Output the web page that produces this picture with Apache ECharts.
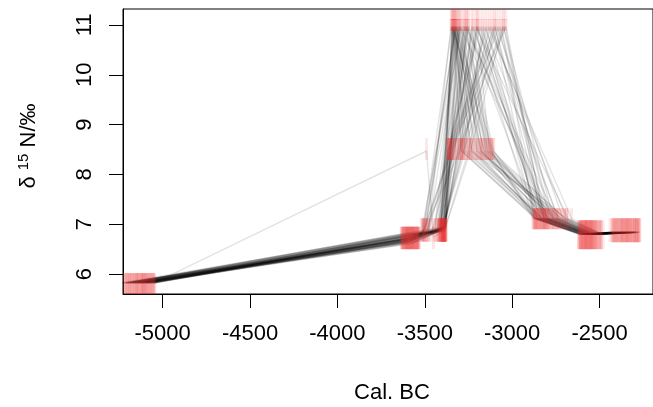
<!DOCTYPE html>
<html><head><meta charset="utf-8">
<script src="https://cdn.jsdelivr.net/npm/echarts@6/dist/echarts.min.js"></script>
<style>html,body{margin:0;padding:0;background:#fff}#c{width:653px;height:407px}</style>
</head><body><div id="c"></div>
<script>
// tick labels
const xTicks = [-5000, -4500, -4000, -3500, -3000, -2500];
const yTicks = [6, 7, 8, 9, 10, 11];

// sampled dates (Cal. BC) of each sample, one entry per posterior path
const d1 = [-5120,-5060,-5200,-5150,-5090,-5240,-5170,-5110,-5050,-5180,-5130,-5080,-5220,-5160,-5100,-5140,-5070,-5190,-5210,-5120,-5085,-5155,-5230,-5105,-5175,-5065,-5135,-5195,-5115,-5045,-5165,-5205,-5095,-5145,-5125,-5185,-5075,-5215,-5050,-5110,
            -5100,-5160,-5080,-5200,-5140,-5060,-5180,-5120,-5225,-5090,-5150,-5070,-5190,-5110,-5130,-5210,-5055,-5170,-5095,-5145];
const d2 = [-3600,-3580,-3630,-3560,-3540,-3610,-3590,-3570,-3620,-3550,-3535,-3600,-3575,-3615,-3560,-3590,-3545,-3630,-3565,-3585,-3605,-3555,-3595,-3625,-3540,-3580,-3610,-3570,-3530,-3600,-3620,-3550,-3590,-3565,-3635,-3545,-3575,-3605,-3450,-3585,
            -3590,-3620,-3555,-3600,-3540,-3630,-3570,-3610,-3545,-3580,-3615,-3560,-3595,-3535,-3625,-3575,-3550,-3605,-3585,-3565];
const d3 = [-3420,-3400,-3510,-3390,-3380,-3520,-3410,-3395,-3495,-3385,-3430,-3405,-3505,-3390,-3415,-3380,-3480,-3400,-3445,-3385,-3410,-3395,-3500,-3380,-3420,-3400,-3515,-3390,-3405,-3385,-3490,-3395,-3415,-3380,-3510,-3390,-3425,-3400,-3400,-3410,
            -3395,-3500,-3385,-3410,-3480,-3390,-3440,-3385,-3510,-3400,-3420,-3490,-3395,-3380,-3460,-3405,-3385,-3430,-3395,-3475];
const dTop = [-3340,-3330,-3320,-3345,-3310,-3300,-3335,-3280,-3325,-3260,-3315,-3340,-3290,-3230,-3330,-3305,-3350,-3270,-3320,-3200,-3250,-3120,-3060,-3180,-3210,-3040,-3300,-3150,-3090,-3100,-3230,-3110,-3270,-3050,-3140,-3200,-3070,-3170,-3260,-3335,
              -3345,-3325,-3310,-3340,-3295,-3330,-3275,-3320,-3345,-3250,-3080,-3200,-3130,-3035,-3260,-3160,-3100,-3220,-3050,-3190];
const dMid = [-3250,-3180,-3280,-3130,-3220,-3150,-3290,-3200,-3110,-3170,-3240,-3160,-3120,-3140,-3270,-3190,-3230,-3105,-3210,-3130,-3360,-3340,-3300,-3370,-3320,-3280,-3350,-3310,-3365,-3250,-3330,-3290,-3355,-3240,-3345,-3300,-3360,-3270,-3490,-3175,
              -3200,-3260,-3140,-3120,-3180,-3230,-3115,-3160,-3290,-3150,-3340,-3365,-3300,-3355,-3330,-3280,-3370,-3345,-3310,-3360];
const d5 = [-2820,-2760,-2860,-2700,-2840,-2780,-2870,-2730,-2800,-2850,-2690,-2810,-2880,-2750,-2830,-2720,-2860,-2790,-2845,-2770,-2815,-2740,-2875,-2805,-2680,-2835,-2765,-2855,-2710,-2825,-2795,-2865,-2745,-2815,-2660,-2840,-2785,-2870,-2800,-2830,
            -2790,-2850,-2720,-2870,-2760,-2830,-2700,-2810,-2865,-2745,-2775,-2840,-2690,-2820,-2855,-2735,-2800,-2880,-2765,-2815];
const d6 = [-2560,-2530,-2600,-2500,-2580,-2545,-2610,-2520,-2570,-2590,-2490,-2555,-2620,-2535,-2575,-2510,-2595,-2550,-2585,-2525,-2565,-2515,-2605,-2540,-2480,-2580,-2530,-2600,-2505,-2560,-2545,-2615,-2520,-2570,-2495,-2590,-2550,-2610,-2560,-2575,
            -2550,-2590,-2515,-2605,-2535,-2570,-2500,-2580,-2620,-2545,-2560,-2595,-2490,-2575,-2610,-2525,-2555,-2600,-2540,-2585];
const d7 = [-2350,-2300,-2400,-2280,-2370,-2320,-2420,-2290,-2360,-2390,-2270,-2340,-2430,-2310,-2380,-2285,-2410,-2330,-2395,-2305,-2355,-2295,-2415,-2325,-2275,-2375,-2315,-2405,-2290,-2345,-2335,-2425,-2300,-2365,-2280,-2385,-2320,-2440,-2350,-2370,
            -2330,-2395,-2290,-2410,-2345,-2370,-2280,-2360,-2425,-2310,-2340,-2385,-2270,-2355,-2415,-2300,-2335,-2400,-2320,-2375];

// δ15N values of the samples
const v2 = [6.72,6.68,6.78,6.65,6.74,6.80,6.70,6.62,6.76,6.71,6.83,6.66,6.73,6.69,6.77,6.64,6.75,6.70,6.81,6.67,6.72,6.79,6.63,6.74,6.68,6.76,6.71,6.84,6.66,6.73,6.70,6.78,6.65,6.75,6.69,6.80,6.72,6.67,6.74,6.71,
            6.70,6.77,6.64,6.82,6.69,6.74,6.61,6.79,6.72,6.66,6.75,6.68,6.83,6.71,6.65,6.78,6.73,6.67,6.80,6.70];
const v3 = [6.88,6.92,6.85,6.90,6.95,6.82,6.89,6.93,6.86,6.91,6.87,6.94,6.84,6.90,6.88,6.96,6.86,6.91,6.83,6.89,6.92,6.87,6.90,6.94,6.85,6.88,6.81,6.93,6.89,6.91,6.86,6.90,6.87,6.95,6.84,6.92,6.88,6.90,6.86,6.89,
            6.90,6.86,6.93,6.88,6.84,6.91,6.95,6.87,6.83,6.92,6.89,6.85,6.94,6.90,6.86,6.92,6.88,6.91,6.84,6.90];
const v1 = 5.82, vTop = 10.97, vMid = 8.47, v5 = 7.12, v6 = 6.80, v7 = 6.84;

// measurement ranges (red bars) per sample: low, high
const errLo = [5.60, 6.50, 6.65, 10.88, 8.29, 6.90, 6.50, 6.64];
const errHi = [6.02, 6.95, 7.12, 11.12, 8.73, 7.32, 7.08, 7.12];
const topExtra = [11.10, 11.33];

const dateSets = [d1, d2, d3, dTop, dMid, d5, d6, d7];

const paths = d1.map((_, i) => {
  const pts = [[d1[i], v1], [d2[i], v2[i]], [d3[i], v3[i]], [dTop[i], vTop], [dMid[i], vMid], [d5[i], v5], [d6[i], v6], [d7[i], v7]];
  return pts.sort((a, b) => a[0] - b[0]);
});

const redData = [];
dateSets.forEach((ds, k) => ds.forEach(x => redData.push([x, errLo[k], errHi[k]])));
const redExtra = dTop.map(x => [x, topExtra[0], topExtra[1]]);

function barRender(params, api) {
  const x = api.value(0);
  const p1 = api.coord([x, api.value(1)]);
  const p2 = api.coord([x, api.value(2)]);
  const shape = echarts.graphic.clipRectByRect(
    { x: p1[0] - 1.5, y: p2[1], width: 3, height: p1[1] - p2[1] },
    { x: params.coordSys.x, y: params.coordSys.y, width: params.coordSys.width, height: params.coordSys.height });
  if (!shape) return null;
  return { type: 'rect', shape: shape, style: { fill: api.visual('color') } };
}

const series = paths.map(p => ({
  type: 'line', data: p, showSymbol: false, symbol: 'none', silent: true,
  lineStyle: { color: '#000', width: 1.4, opacity: 0.11 }, z: 2, clip: true
}));
series.push({ type: 'custom', data: redData, renderItem: barRender, itemStyle: { color: 'rgba(235,45,45,0.11)' }, z: 3, silent: true });
series.push({ type: 'custom', data: redExtra, renderItem: barRender, itemStyle: { color: 'rgba(235,45,45,0.06)' }, z: 3, silent: true });

const font = 'Liberation Sans, Arial, sans-serif';
const chart = echarts.init(document.getElementById('c'), null, { renderer: 'canvas' });
chart.setOption({
  animation: false,
  backgroundColor: '#fff',
  grid: { left: 123, top: 9, width: 538, height: 285, show: true, borderColor: '#000', borderWidth: 1, backgroundColor: 'transparent' },
  xAxis: {
    type: 'value', min: -5227, max: -2194,
    axisLine: { show: true, lineStyle: { color: '#000', width: 1 } },
    axisTick: { show: true, length: 14, customValues: xTicks, lineStyle: { color: '#000', width: 1 } },
    axisLabel: { customValues: xTicks, formatter: v => String(v), fontSize: 22, color: '#000', margin: 29, fontFamily: font },
    splitLine: { show: false }
  },
  yAxis: {
    type: 'value', min: 5.6, max: 11.32,
    axisLine: { show: true, lineStyle: { color: '#000', width: 1 } },
    axisTick: { show: true, length: 14, customValues: yTicks, lineStyle: { color: '#000', width: 1 } },
    axisLabel: { customValues: yTicks, formatter: v => String(v), rotate: 90, fontSize: 22, color: '#000', margin: 27, fontFamily: font },
    splitLine: { show: false }
  },
  graphic: [
    { type: 'text', x: 392, y: 393, style: { text: 'Cal. BC', fontSize: 22, fill: '#000', fontFamily: font, align: 'center', verticalAlign: 'middle' } },
    { type: 'text', x: 29, y: 146, rotation: Math.PI / 2, style: {
        text: '{a|δ }{b|15}{a| N/‰}', align: 'center', verticalAlign: 'middle', fontFamily: font, fill: '#000',
        rich: { a: { fontSize: 22, lineHeight: 26, fontFamily: font, fill: '#000' }, b: { fontSize: 15, lineHeight: 26, verticalAlign: 'top', fontFamily: font, fill: '#000' } } } }
  ],
  series: series
});
</script></body></html>
